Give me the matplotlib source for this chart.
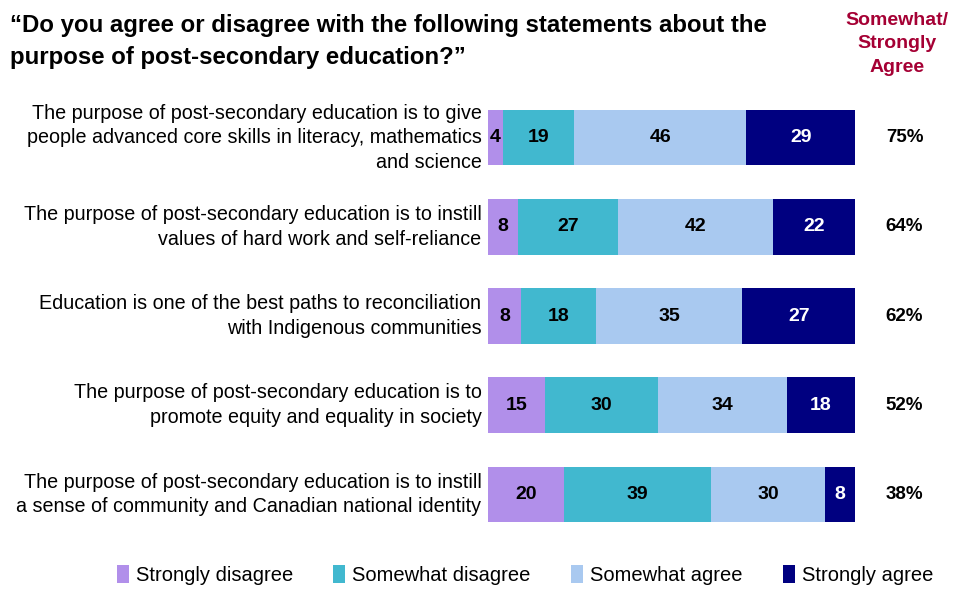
import numpy as np
import matplotlib.pyplot as plt
from matplotlib.patches import Patch

plt.rcParams['font.family'] = ['Liberation Sans', 'DejaVu Sans']

statements = [
    "The purpose of post-secondary education is to give\npeople advanced core skills in literacy, mathematics\nand science",
    "The purpose of post-secondary education is to instill\nvalues of hard work and self-reliance",
    "Education is one of the best paths to reconciliation\nwith Indigenous communities",
    "The purpose of post-secondary education is to\npromote equity and equality in society",
    "The purpose of post-secondary education is to instill\na sense of community and Canadian national identity",
]
strongly_disagree = [4, 8, 8, 15, 20]
somewhat_disagree = [19, 27, 18, 30, 39]
somewhat_agree = [46, 42, 35, 34, 30]
strongly_agree = [29, 22, 27, 18, 8]
agree_total = ["75%", "64%", "62%", "52%", "38%"]

series = ["Strongly disagree", "Somewhat disagree", "Somewhat agree", "Strongly agree"]
colors = ["#B18FEA", "#41B8CF", "#A9C9F0", "#000080"]
text_colors = ["black", "black", "black", "white"]

vals = np.array([strongly_disagree, somewhat_disagree, somewhat_agree, strongly_agree], dtype=float)
# bars are drawn full width: each segment is its share of the answered total
shares = vals / vals.sum(axis=0)

fig = plt.figure(figsize=(9.54, 5.9), dpi=100)
ax = fig.add_axes([488/954, 1 - 522/590, (855-488)/954, (522-110)/590])

y = np.arange(len(statements))
left = np.zeros(len(statements))
for i in range(4):
    ax.barh(y, shares[i], left=left, height=0.622, color=colors[i], edgecolor='none')
    for j in range(len(statements)):
        ax.text(left[j] + shares[i][j] / 2, y[j], f"{int(vals[i][j])}",
                ha='center', va='center', fontsize=14, fontweight='bold',
                color=text_colors[i])
    left += shares[i]

ax.set_xlim(0, 1)
ax.set_ylim(4.311, -0.311)
ax.axis('off')

for j, s in enumerate(statements):
    ax.text(-0.018, y[j], s, transform=ax.get_yaxis_transform(), ha='right', va='center',
            fontsize=14.2, linespacing=1.37)
    ax.text(1.135, y[j], agree_total[j], transform=ax.get_yaxis_transform(), ha='center',
            va='center', fontsize=13.5, fontweight='bold')

fig.text(10/954, 1 - 14/590,
         "\u201cDo you agree or disagree with the following statements about the\npurpose of post-secondary education?\u201d",
         ha='left', va='top', fontsize=17.3, fontweight='bold', linespacing=1.5)
fig.text(897/954, 1 - 12/590, "Somewhat/\nStrongly\nAgree", ha='center', va='top',
         fontsize=14, fontweight='bold', color='#A50034', linespacing=1.5)

handles = [Patch(facecolor=c, edgecolor='none') for c in colors]
fig.legend(handles, series, loc='center', bbox_to_anchor=(525/954, 1 - 575/590), ncol=4,
           frameon=False, fontsize=14.5, handlelength=0.6, handleheight=1.0,
           handletextpad=0.35, columnspacing=2.0)

fig.savefig("out.png", dpi=100)
